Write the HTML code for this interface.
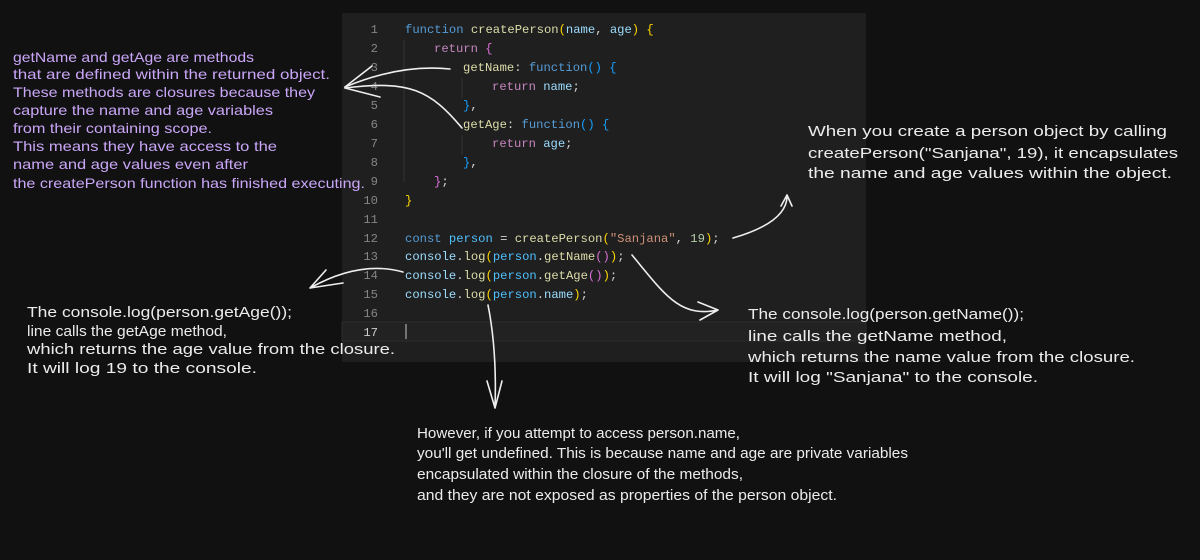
<!DOCTYPE html>
<html><head><meta charset="utf-8"><style>
html,body{margin:0;padding:0;background:#111111;}
svg{display:block;}
.c{font-family:"Liberation Mono",monospace;font-size:12.2px;}
.h{font-family:"Liberation Sans",sans-serif;font-size:14px;}
</style></head><body>
<svg width="1200" height="560" viewBox="0 0 1200 560" xmlns="http://www.w3.org/2000/svg">
<rect width="1200" height="560" fill="#111111"/>
<rect x="342" y="13" width="524" height="349" fill="#1f1f1f"/>
<rect x="342" y="322" width="524" height="19" fill="#222222" stroke="#2c2c2c" stroke-width="1"/>
<!-- indent guides -->
<line x1="404" y1="40" x2="404" y2="182" stroke="#333" />
<line x1="462" y1="78" x2="462" y2="98" stroke="#333" />
<line x1="462" y1="135" x2="462" y2="155" stroke="#333" />
<line x1="406" y1="324" x2="406" y2="339" stroke="#aaa" stroke-width="1.2"/>
<g class="c" fill="#858585" text-anchor="end">
<text x="378" y="33">1</text><text x="378" y="52">2</text><text x="378" y="71">3</text><text x="378" y="90">4</text><text x="378" y="109">5</text><text x="378" y="128">6</text><text x="378" y="147">7</text><text x="378" y="166">8</text><text x="378" y="185">9</text><text x="378" y="204">10</text><text x="378" y="223">11</text><text x="378" y="242">12</text><text x="378" y="260">13</text><text x="378" y="279">14</text><text x="378" y="298">15</text><text x="378" y="317">16</text><text x="378" y="336" fill="#cccccc">17</text>
</g>
<g class="c" xml:space="preserve">
<text x="405" y="33"><tspan fill="#569cd6">function</tspan><tspan fill="#dcdcaa"> createPerson</tspan><tspan fill="#ffd700">(</tspan><tspan fill="#9cdcfe">name</tspan><tspan fill="#d4d4d4">, </tspan><tspan fill="#9cdcfe">age</tspan><tspan fill="#ffd700">) {</tspan></text>
<text x="434" y="52"><tspan fill="#c586c0">return</tspan><tspan fill="#da70d6"> {</tspan></text>
<text x="463" y="71"><tspan fill="#dcdcaa">getName</tspan><tspan fill="#d4d4d4">: </tspan><tspan fill="#569cd6">function</tspan><tspan fill="#179fff">() {</tspan></text>
<text x="492" y="90"><tspan fill="#c586c0">return</tspan><tspan fill="#9cdcfe"> name</tspan><tspan fill="#d4d4d4">;</tspan></text>
<text x="463" y="109"><tspan fill="#179fff">}</tspan><tspan fill="#d4d4d4">,</tspan></text>
<text x="463" y="128"><tspan fill="#dcdcaa">getAge</tspan><tspan fill="#d4d4d4">: </tspan><tspan fill="#569cd6">function</tspan><tspan fill="#179fff">() {</tspan></text>
<text x="492" y="147"><tspan fill="#c586c0">return</tspan><tspan fill="#9cdcfe"> age</tspan><tspan fill="#d4d4d4">;</tspan></text>
<text x="463" y="166"><tspan fill="#179fff">}</tspan><tspan fill="#d4d4d4">,</tspan></text>
<text x="434" y="185"><tspan fill="#da70d6">}</tspan><tspan fill="#d4d4d4">;</tspan></text>
<text x="405" y="204" fill="#ffd700">}</text>
<text x="405" y="242"><tspan fill="#569cd6">const</tspan><tspan fill="#4fc1ff"> person</tspan><tspan fill="#d4d4d4"> = </tspan><tspan fill="#dcdcaa">createPerson</tspan><tspan fill="#ffd700">(</tspan><tspan fill="#ce9178">"Sanjana"</tspan><tspan fill="#d4d4d4">, </tspan><tspan fill="#b5cea8">19</tspan><tspan fill="#ffd700">)</tspan><tspan fill="#d4d4d4">;</tspan></text>
<text x="405" y="260"><tspan fill="#9cdcfe">console</tspan><tspan fill="#d4d4d4">.</tspan><tspan fill="#dcdcaa">log</tspan><tspan fill="#ffd700">(</tspan><tspan fill="#4fc1ff">person</tspan><tspan fill="#d4d4d4">.</tspan><tspan fill="#dcdcaa">getName</tspan><tspan fill="#da70d6">()</tspan><tspan fill="#ffd700">)</tspan><tspan fill="#d4d4d4">;</tspan></text>
<text x="405" y="279"><tspan fill="#9cdcfe">console</tspan><tspan fill="#d4d4d4">.</tspan><tspan fill="#dcdcaa">log</tspan><tspan fill="#ffd700">(</tspan><tspan fill="#4fc1ff">person</tspan><tspan fill="#d4d4d4">.</tspan><tspan fill="#dcdcaa">getAge</tspan><tspan fill="#da70d6">()</tspan><tspan fill="#ffd700">)</tspan><tspan fill="#d4d4d4">;</tspan></text>
<text x="405" y="298"><tspan fill="#9cdcfe">console</tspan><tspan fill="#d4d4d4">.</tspan><tspan fill="#dcdcaa">log</tspan><tspan fill="#ffd700">(</tspan><tspan fill="#4fc1ff">person</tspan><tspan fill="#d4d4d4">.</tspan><tspan fill="#9cdcfe">name</tspan><tspan fill="#ffd700">)</tspan><tspan fill="#d4d4d4">;</tspan></text>
</g>
<!-- left purple text -->
<g class="h" fill="#c9a6f7" lengthAdjust="spacingAndGlyphs">
<text x="13" y="62" textLength="241" lengthAdjust="spacingAndGlyphs">getName and getAge are methods</text>
<text x="13" y="79" textLength="317" lengthAdjust="spacingAndGlyphs">that are defined within the returned object.</text>
<text x="13" y="97" textLength="302" lengthAdjust="spacingAndGlyphs">These methods are closures because they</text>
<text x="13" y="115" textLength="260" lengthAdjust="spacingAndGlyphs">capture the name and age variables</text>
<text x="13" y="133" textLength="199" lengthAdjust="spacingAndGlyphs">from their containing scope.</text>
<text x="13" y="151" textLength="264" lengthAdjust="spacingAndGlyphs">This means they have access to the</text>
<text x="13" y="169" textLength="235" lengthAdjust="spacingAndGlyphs">name and age values even after</text>
<text x="13" y="188" textLength="352" lengthAdjust="spacingAndGlyphs">the createPerson function has finished executing.</text>
</g>
<g class="h" fill="#ececec" style="font-size:15px">
<text x="27" y="317" textLength="265" lengthAdjust="spacingAndGlyphs">The console.log(person.getAge());</text>
<text x="27" y="336" textLength="200" lengthAdjust="spacingAndGlyphs">line calls the getAge method,</text>
<text x="27" y="354" textLength="368" lengthAdjust="spacingAndGlyphs">which returns the age value from the closure.</text>
<text x="27" y="373" textLength="230" lengthAdjust="spacingAndGlyphs">It will log 19 to the console.</text>

<text x="808" y="136" textLength="359" lengthAdjust="spacingAndGlyphs">When you create a person object by calling</text>
<text x="808" y="158" textLength="370" lengthAdjust="spacingAndGlyphs">createPerson("Sanjana", 19), it encapsulates</text>
<text x="808" y="178" textLength="364" lengthAdjust="spacingAndGlyphs">the name and age values within the object.</text>

<text x="748" y="319" textLength="276" lengthAdjust="spacingAndGlyphs">The console.log(person.getName());</text>
<text x="748" y="341" textLength="259" lengthAdjust="spacingAndGlyphs">line calls the getName method,</text>
<text x="748" y="362" textLength="387" lengthAdjust="spacingAndGlyphs">which returns the name value from the closure.</text>
<text x="748" y="382" textLength="290" lengthAdjust="spacingAndGlyphs">It will log "Sanjana" to the console.</text>

<text x="417" y="438" textLength="323" lengthAdjust="spacingAndGlyphs">However, if you attempt to access person.name,</text>
<text x="417" y="458" textLength="491" lengthAdjust="spacingAndGlyphs">you'll get undefined. This is because name and age are private variables</text>
<text x="417" y="479" textLength="326" lengthAdjust="spacingAndGlyphs">encapsulated within the closure of the methods,</text>
<text x="417" y="500" textLength="420" lengthAdjust="spacingAndGlyphs">and they are not exposed as properties of the person object.</text>
</g>
<!-- arrows -->
<g fill="none" stroke="#eeeeee" stroke-width="1.6" stroke-linecap="round">
<path d="M450,69 Q400,64 345,87"/>
<path d="M462,128 C430,90 410,80 345,88"/>
<path d="M345,87 L372,66 M345,88 L380,97"/>
<path d="M733,238 Q788,222 787,195 M787,195 L781,206 M787,195 L792,206"/>
<path d="M632,255 C665,295 680,318 718,310 M718,310 L698,302 M718,310 L700,320"/>
<path d="M403,272 Q360,260 310,288 M310,288 L326,270 M310,288 L343,283"/>
<path d="M488,305 Q497,350 495,408 M495,408 L487,381 M495,408 L502,381"/>
</g>
</svg>
</body></html>
